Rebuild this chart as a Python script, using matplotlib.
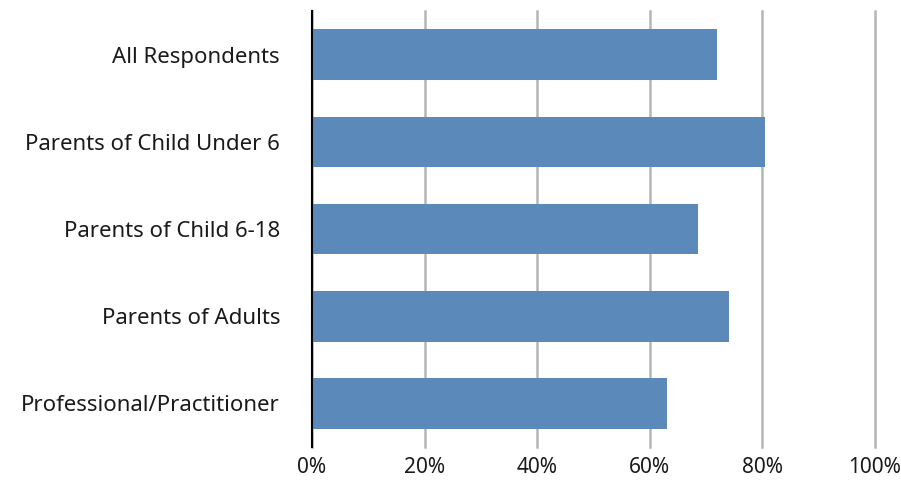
import numpy as np
import matplotlib.pyplot as plt
from matplotlib.ticker import PercentFormatter

categories = ['All Respondents', 'Parents of Child Under 6', 'Parents of Child 6-18',
              'Parents of Adults', 'Professional/Practitioner']
values = [71.9, 80.4, 68.5, 74.0, 63.0]
x_ticks = [0, 20, 40, 60, 80, 100]

plt.rcParams['font.family'] = ['Noto Sans', 'DejaVu Sans']

fig = plt.figure(figsize=(9.01, 4.83), dpi=100)
ax = fig.add_axes([0.3463, 0.0745, 0.6248, 0.9025])

y = np.arange(len(categories))
ax.barh(y, values, height=0.58, color='#5B89B9', zorder=3)

ax.set_ylim(len(categories) - 0.5, -0.5)
ax.set_yticks(y)
ax.set_yticklabels(categories, fontsize=16, color='#1a1a1a')

ax.set_xlim(0, 100)
ax.set_xticks(x_ticks)
ax.xaxis.set_major_formatter(PercentFormatter(decimals=0))
ax.tick_params(axis='x', length=0, pad=7, labelsize=15, labelcolor='#1a1a1a')
ax.tick_params(axis='y', length=0, pad=23)

# gridlines
ax.grid(axis='x', color='#b5b5b5', linewidth=1.8, zorder=0)
ax.grid(axis='y', visible=False)
for gl in ax.get_xgridlines():
    gl.set_clip_on(False)

for s in ['top', 'right', 'bottom']:
    ax.spines[s].set_visible(False)
ax.spines['left'].set_color('black')
ax.spines['left'].set_linewidth(1.5)
ax.spines['left'].set_zorder(4)

fig.savefig('out.png', dpi=100)
